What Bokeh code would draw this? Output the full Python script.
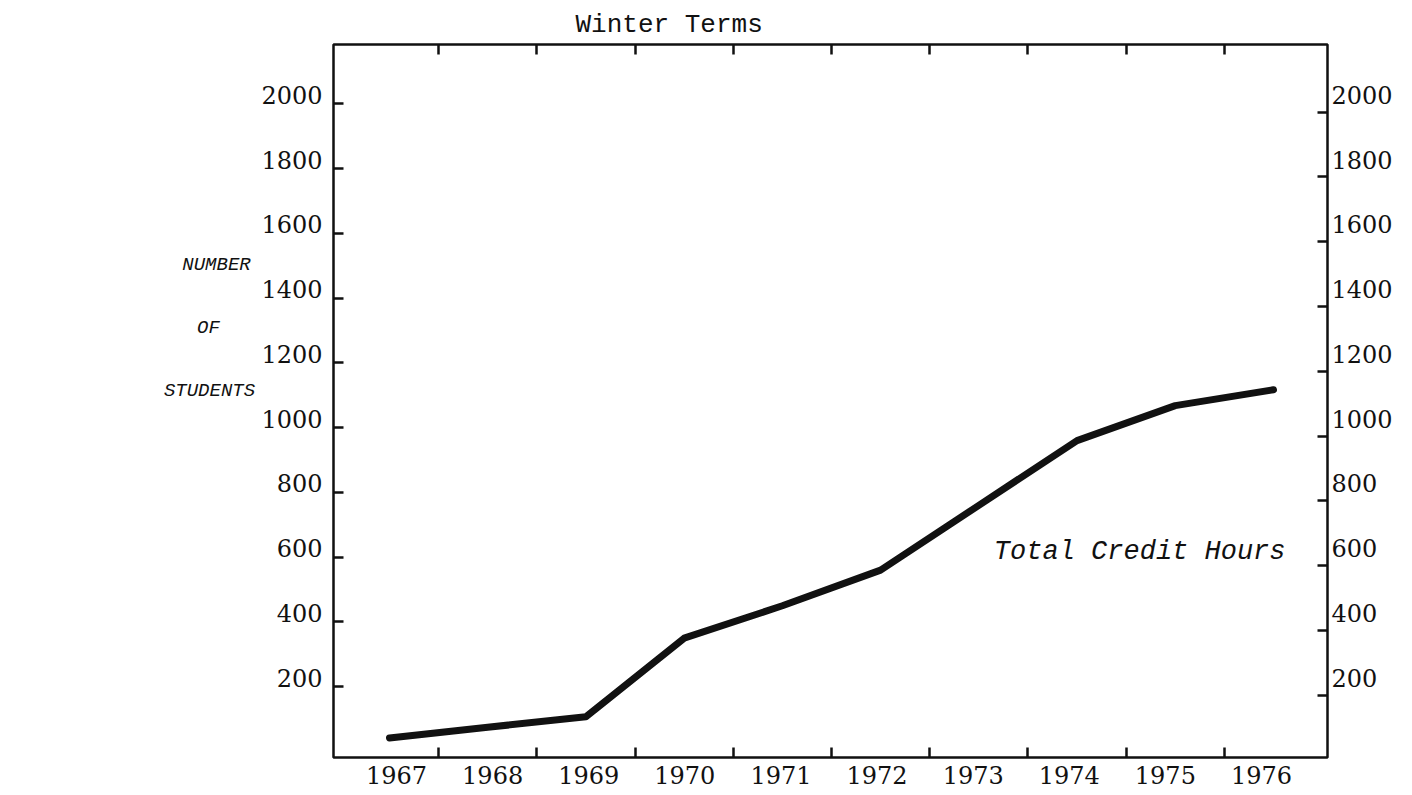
from bokeh.plotting import figure
from bokeh.layouts import row
from bokeh.models import Range1d, LinearAxis, FixedTicker
from bokeh.core.properties import value
from bokeh.embed import file_html
from bokeh.resources import INLINE

# ---- data ----
years = [1967, 1968, 1969, 1970, 1971, 1972, 1973, 1974, 1975, 1976]
credit_hours = [42, 75, 107, 350, 450, 560, 760, 960, 1068, 1117]
y_tick_values = [200, 400, 600, 800, 1000, 1200, 1400, 1600, 1800, 2000]
x_tick_values = [1967.5, 1968.5, 1969.5, 1970.5, 1971.5, 1972.5, 1973.5, 1974.5, 1975.5]
x_label_values = years
title_text = "Winter Terms"
y_title_lines = ["NUMBER", "OF", "STUDENTS"]
series_label = "Total Credit Hours"

NUM_FONT = "DejaVu Serif"
NUM_SIZE = "24px"
TYPE_FONT = "Liberation Mono"
INK = "#111111"

# ---- left strip holding the italic axis caption (frame aligned with main plot) ----
side = figure(width=258, height=795, output_backend="svg", toolbar_location=None,
              x_range=Range1d(0, 258), y_range=Range1d(0, 713),
              x_axis_location=None, y_axis_location=None,
              min_border_left=0, min_border_right=0, min_border_top=44, min_border_bottom=38)
side.xgrid.visible = False
side.ygrid.visible = False
side.outline_line_color = None
side.background_fill_color = "white"
side.border_fill_color = "white"
side.text(x=[216, 208, 209], y=[493, 430, 367], text=y_title_lines,
          text_font=value(TYPE_FONT), text_font_size="19px", text_font_style="italic",
          text_color=INK, text_align="center", text_baseline="middle")

# ---- main chart ----
p = figure(width=1154, height=795, output_backend="svg", toolbar_location=None,
           x_range=Range1d(1966.43, 1976.55), y_range=Range1d(-18.5, 2183),
           x_axis_location=None, y_axis_location=None,
           min_border_left=75, min_border_right=85, min_border_top=44, min_border_bottom=38)
p.extra_y_ranges = {"lab": Range1d(-46.3, 2155.2), "rtick": Range1d(7.5, 2209)}
p.extra_x_ranges = {"xlab": Range1d(1966.344, 1976.687)}
p.xgrid.visible = False
p.ygrid.visible = False
p.background_fill_color = "white"
p.border_fill_color = "white"
p.outline_line_color = INK
p.outline_line_width = 2.5

p.title.text = title_text
p.title.align = "left"
p.title.offset = 242
p.title.standoff = 10
p.title.text_font = TYPE_FONT
p.title.text_font_size = "26px"
p.title.text_font_style = "normal"
p.title.text_color = INK


def tick_axis(values, **kw):
    return LinearAxis(ticker=FixedTicker(ticks=values), axis_line_color=None,
                      major_tick_in=10, major_tick_out=0, major_tick_line_width=2.5,
                      major_tick_line_color=INK, minor_tick_line_color=None,
                      major_label_text_font_size="0px", major_label_standoff=0, **kw)


def label_axis(values, standoff, **kw):
    return LinearAxis(ticker=FixedTicker(ticks=values), axis_line_color=None,
                      major_tick_line_color=None, major_tick_in=0, major_tick_out=0,
                      minor_tick_line_color=None, major_label_standoff=standoff,
                      major_label_text_font=NUM_FONT, major_label_text_font_size=NUM_SIZE,
                      major_label_text_color=INK, **kw)


p.add_layout(tick_axis(y_tick_values), "left")
p.add_layout(label_axis(y_tick_values, 11, y_range_name="lab"), "left")
p.add_layout(tick_axis(y_tick_values, y_range_name="rtick"), "right")
p.add_layout(label_axis(y_tick_values, 4, y_range_name="lab"), "right")
p.add_layout(tick_axis(x_tick_values), "below")
p.add_layout(label_axis(x_label_values, 8, x_range_name="xlab"), "below")
p.add_layout(tick_axis(x_tick_values), "above")

p.line(years, credit_hours, line_color=INK, line_width=7, line_join="round", line_cap="round")

p.text(x=[1976.55], y=[-18.5], text=[series_label], x_offset=-42, y_offset=-206,
       text_font=value(TYPE_FONT), text_font_size="27px", text_font_style="italic",
       text_color=INK, text_align="right", text_baseline="middle")

layout = row(side, p)
open("out.html", "w").write(file_html(layout, INLINE))
